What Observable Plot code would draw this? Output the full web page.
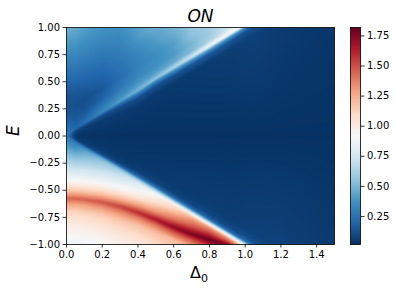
<!DOCTYPE html>
<html>
<head>
<meta charset="utf-8">
<script src="https://cdn.jsdelivr.net/npm/d3@7"></script>
<script src="https://cdn.jsdelivr.net/npm/@observablehq/plot@0.6"></script>
<style>
html,body{margin:0;padding:0;background:#fff}
#wrap{position:relative;width:396px;height:291px;overflow:hidden}
#wrap svg{position:absolute;top:0;overflow:visible;background:transparent}
</style>
</head>
<body>
<div id="wrap"></div>
<script>
const deltaTicks = [0,0.2,0.4,0.6,0.8,1.0,1.2,1.4];
const energyTicks = [-1,-0.75,-0.5,-0.25,0,0.25,0.5,0.75,1];
const colorTicks = [0.25,0.5,0.75,1,1.25,1.5,1.75];
const colorDomain = [0.017,1.82];
const rdbuReversed = ["#053061","#2166ac","#4393c3","#92c5de","#d1e5f0","#f7f7f7","#fddbc7","#f4a582","#d6604d","#b2182b","#67001f"];

const deltas = [0,.05,.1,.2,.3,.4,.5,.6,.7,.8,.9,.96,1,1.05,1.2,1.35,1.5];
const ridgeE = [0,.06,.115,.22,.32,.42,.53,.63,.73,.83,.93,.99,1.03,1.08,1.23,1.38,1.53];
const edgeE  = [0,-.05,-.1,-.2,-.3,-.4,-.5,-.6,-.7,-.8,-.9,-.96,-1,-1.05,-1.2,-1.35,-1.5];
const peakE  = [-.575,-.578,-.585,-.61,-.65,-.705,-.77,-.84,-.905,-.955,-1,-1.03,-1.07,-1.12,-1.27,-1.42,-1.57];
// offsets of the samples around the ridge (above it)
const aboveRidge = [1,.5,.35,.22,.12,.05];
const belowRidge = [.03,.07,.15];
const aboveEdge = [.15,.07,.03];
const belowPeak = [.05,.12,.26,.4,1];

const col000 = [.48,.2,.13,.14,.19,.25,.28,.28,.28,.28,.28,.28,.28,.28,.28,.3,.95,1.18,1.45,1.28,1.12,.98,.89,.85];
const col005 = [.49,.23,.15,.12,.15,.18,.2,.17,.12,.08,.04,.07,.12,.18,.24,.32,.95,1.18,1.45,1.28,1.12,.98,.89,.85];
const col010 = [.48,.24,.17,.12,.14,.19,.23,.18,.11,.06,.025,.05,.09,.16,.26,.42,.95,1.18,1.46,1.29,1.13,.98,.9,.85];
const col020 = [.47,.26,.2,.15,.19,.27,.33,.2,.11,.055,.025,.05,.09,.2,.42,.55,.96,1.2,1.49,1.32,1.15,1,.9,.85];
const col030 = [.47,.3,.26,.23,.27,.34,.42,.24,.11,.05,.025,.04,.07,.2,.5,.65,.97,1.22,1.54,1.36,1.18,1.03,.93,.87];
const col040 = [.5,.41,.32,.3,.33,.41,.5,.28,.12,.045,.025,.04,.07,.2,.55,.78,1,1.28,1.6,1.38,1.18,1.03,.94,.88];
const col050 = [.52,.48,.41,.35,.36,.42,.56,.3,.12,.045,.025,.045,.08,.22,.6,.88,1.1,1.33,1.66,1.42,1.2,1.05,.95,.9];
const col060 = [.55,.5,.49,.42,.4,.46,.64,.35,.13,.045,.025,.05,.08,.22,.62,1,1.18,1.42,1.73,1.48,1.2,1.1,1,.95];
const col070 = [.6,.58,.58,.56,.5,.52,.74,.4,.15,.05,.025,.055,.09,.22,.66,1.08,1.26,1.5,1.78,1.5,1.25,1.1,1,.95];
const col080 = [.65,.63,.63,.62,.6,.62,.88,.45,.16,.055,.025,.06,.1,.22,.7,1.15,1.3,1.55,1.82,1.6,1.3,1.1,1,.95];
const col090 = [.7,.7,.7,.7,.72,.74,.93,.42,.15,.06,.025,.06,.1,.22,.75,1.2,1.3,1.5,1.75,1.6,1.3,1.1,1,.95];
const col096 = [.8,.8,.8,.8,.8,.85,.95,.4,.14,.065,.025,.065,.1,.22,.75,1.15,1.2,1.4,1.6,1.5,1.3,1.1,1,.95];
const col100 = [.9,.9,.9,.9,.9,.9,.9,.35,.13,.07,.025,.07,.12,.24,.8,1.1,1.2,1.3,1.4,1.3,1.2,1.1,1,.95];
const col105 = [.5,.5,.5,.5,.5,.5,.5,.3,.13,.075,.025,.075,.12,.22,.5,.8,.9,.9,.9,.9,.9,.9,.9,.9];
const col120 = [.06,.06,.06,.06,.06,.06,.06,.06,.06,.06,.025,.08,.09,.09,.09,.09,.09,.09,.09,.09,.09,.09,.09,.09];
const col135 = [.05,.05,.05,.05,.05,.05,.05,.05,.05,.05,.025,.07,.07,.07,.07,.07,.07,.07,.07,.07,.07,.07,.07,.07];
const col150 = [.045,.045,.045,.045,.045,.045,.045,.045,.045,.045,.025,.06,.06,.06,.06,.06,.06,.06,.06,.06,.06,.06,.06,.06];
const columns = [col000,col005,col010,col020,col030,col040,col050,col060,col070,col080,col090,col096,col100,col105,col120,col135,col150];

function sampleEnergies(i) {
  const d = deltas[i], r = ridgeE[i], l = edgeE[i], p = peakE[i];
  const s = Math.min(1, d / 0.4), gap = l - 0.03 - p;
  return [
    ...aboveRidge.map(o => r + o), r,
    ...belowRidge.map(o => r - o * s),
    (r + l) / 2,
    ...aboveEdge.map(o => l + o * s), l, l - 0.03,
    p + Math.min(0.15, gap * 0.9), p + Math.min(0.07, gap * 0.45), p,
    ...belowPeak.map(o => p - o)
  ];
}
const energies = deltas.map((_, i) => sampleEnergies(i));

// value of the sampled map: samples of neighbouring columns are joined knot by knot
function mapValue(x, y) {
  let i = d3.bisectRight(deltas, x) - 1;
  i = Math.max(0, Math.min(deltas.length - 2, i));
  const t = (x - deltas[i]) / (deltas[i + 1] - deltas[i]);
  const E0 = energies[i], E1 = energies[i + 1], V0 = columns[i], V1 = columns[i + 1];
  let prevE = E0[0] * (1 - t) + E1[0] * t, prevV = V0[0] * (1 - t) + V1[0] * t;
  if (y >= prevE) return prevV;
  for (let k = 1; k < E0.length; k++) {
    const e = E0[k] * (1 - t) + E1[k] * t, v = V0[k] * (1 - t) + V1[k] * t;
    if (y >= e) return e === prevE ? v : v + (prevV - v) * (y - e) / (prevE - e);
    prevE = e; prevV = v;
  }
  return prevV;
}

const colorScale = {type: "linear", domain: d3.range(11).map(i => colorDomain[0] + i * (colorDomain[1] - colorDomain[0]) / 10), range: rdbuReversed, interpolate: "rgb"};
const fontFamily = "'DejaVu Sans'";

const main = Plot.plot({
  width: 396, height: 291,
  marginLeft: 66, marginRight: 62, marginTop: 27, marginBottom: 47,
  style: {fontFamily, fontSize: "10px", color: "black"},
  x: {domain: [0, 1.5]},
  y: {domain: [-1, 1]},
  color: colorScale,
  marks: [
    Plot.raster({x1: 0, x2: 1.5, y1: -1, y2: 1, fill: mapValue, pixelSize: 1}),
    Plot.frame({stroke: "black", strokeWidth: 0.8}),
    Plot.axisX({ticks: deltaTicks, tickFormat: d3.format(".1f"), tickSize: 3.5, tickPadding: 3, label: null, fill: "black", stroke: "black", strokeWidth: 0.8, textStroke: "none"}),
    Plot.axisY({ticks: energyTicks, tickFormat: d3.format(".2f"), tickSize: 3.5, tickPadding: 3, label: null, fill: "black", stroke: "black", strokeWidth: 0.8, textStroke: "none"}),
    Plot.text(["ON"], {frameAnchor: "top", dy: -18, fontSize: 17, fontStyle: "italic", fill: "black"}),
    Plot.text(["Δ"], {frameAnchor: "bottom", dx: -5, dy: 33, fontSize: 16, fill: "black"}),
    Plot.text(["0"], {frameAnchor: "bottom", dx: 4, dy: 37, fontSize: 11, fill: "black"}),
    Plot.text(["E"], {frameAnchor: "left", dx: -53, dy: 0, fontSize: 17, fontStyle: "italic", rotate: -90, fill: "black"})
  ]
});
main.style.left = "0px";

const bar = Plot.plot({
  width: 46, height: 291,
  marginLeft: 0, marginRight: 36, marginTop: 27, marginBottom: 47,
  style: {fontFamily, fontSize: "10px", color: "black"},
  x: {domain: [0, 1], axis: null},
  y: {domain: colorDomain},
  color: colorScale,
  marks: [
    Plot.raster({x1: 0, x2: 1, y1: colorDomain[0], y2: colorDomain[1], width: 1, height: 217, fill: (x, y) => y}),
    Plot.frame({stroke: "black", strokeWidth: 0.8}),
    Plot.axisY({anchor: "right", ticks: colorTicks, tickFormat: d3.format(".2f"), tickSize: 3.5, tickPadding: 3, label: null, fill: "black", stroke: "black", strokeWidth: 0.8, textStroke: "none"})
  ]
});
bar.style.left = "350px";

document.getElementById("wrap").append(main, bar);
</script>
</body>
</html>
